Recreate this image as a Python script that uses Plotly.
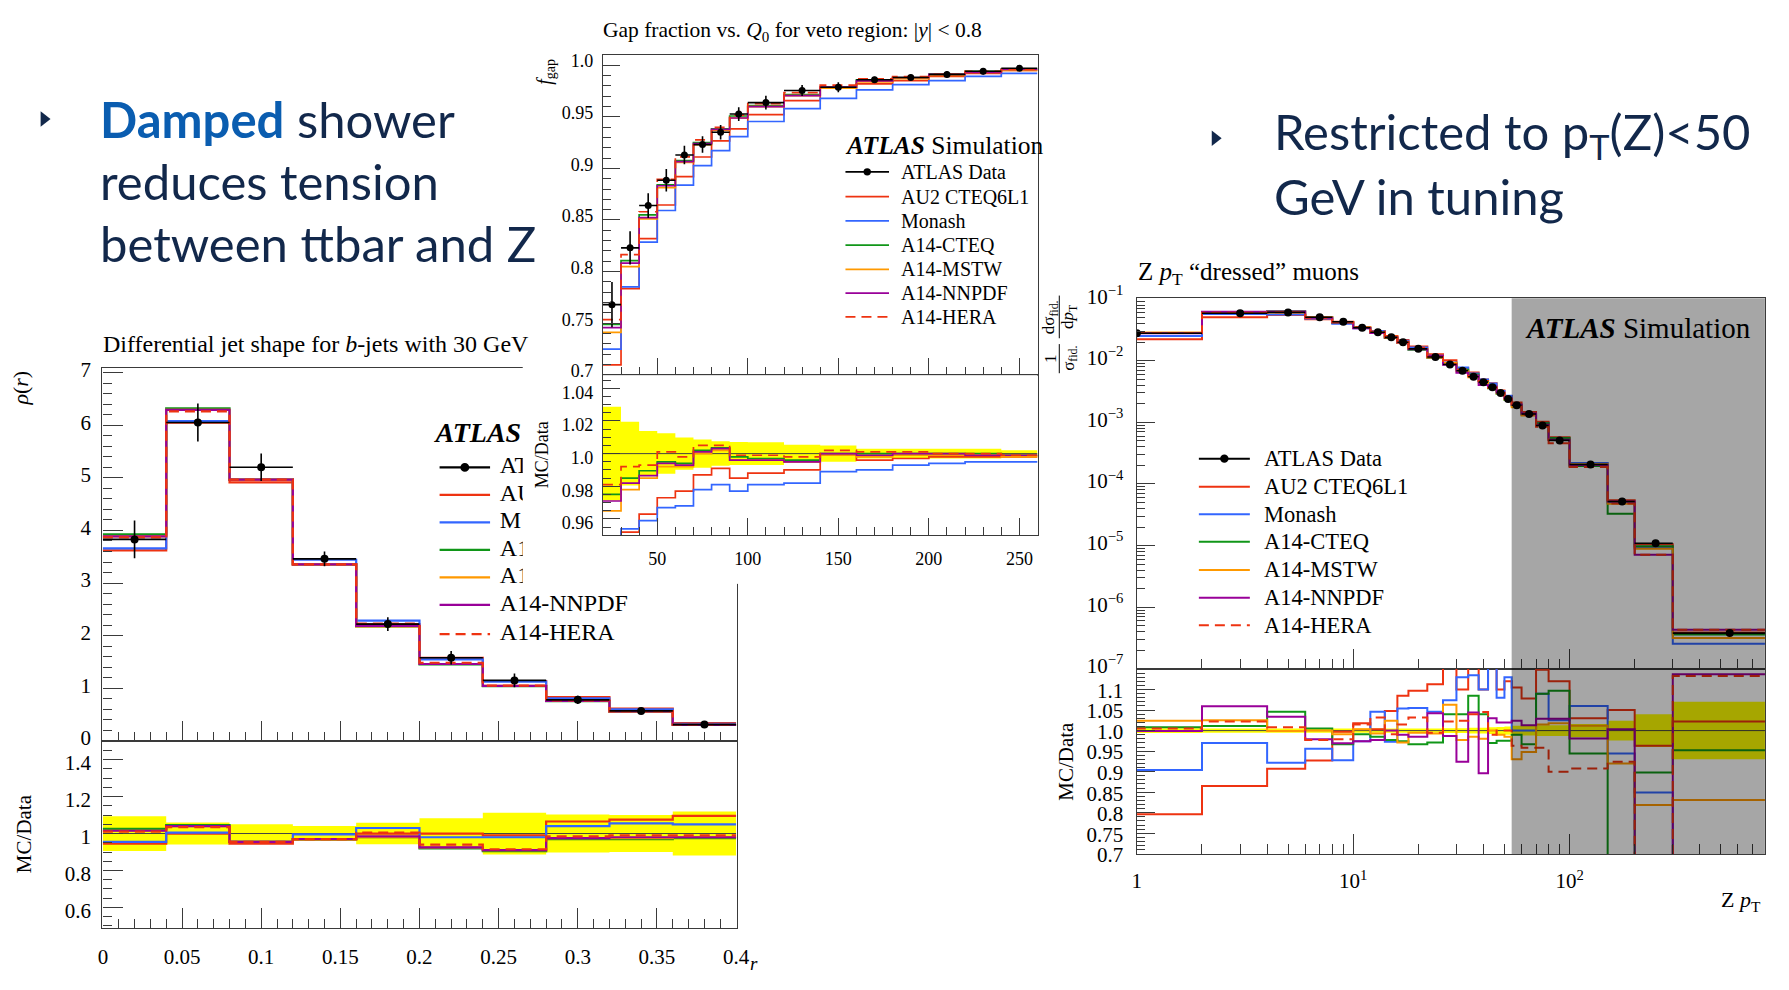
import math
import plotly.graph_objects as go

W, H = 1789, 990
SERIF = "Liberation Serif"
SANS = "Lato"
NAVY = "#12284B"
BLUE_TXT = "#0A5DB0"
FRAME = "#3a3a3a"
YELLOW = "#FFFF00"

# ---------------- generators ----------------
gen_names = ["AU2 CTEQ6L1", "Monash", "A14-CTEQ", "A14-MSTW", "A14-NNPDF", "A14-HERA"]
gen_colors = ["#EE3311", "#3366FF", "#109618", "#FF9900", "#990099", "#EE3311"]
gen_dash = ["solid", "solid", "solid", "solid", "solid", "10px,6px"]

# ---------------- left: differential jet shape ----------------
js_edges = [0.0, 0.04, 0.08, 0.12, 0.16, 0.20, 0.24, 0.28, 0.32, 0.36, 0.40]
js_data = [3.83, 6.05, 5.20, 3.46, 2.22, 1.58, 1.15, 0.78, 0.57, 0.31]
js_err = [0.36, 0.36, 0.26, 0.14, 0.13, 0.13, 0.13, 0.08, 0.057, 0.037]
js_r_au2 = [0.945, 1.0, 0.945, 0.97, 1.0, 1.0, 0.99, 1.065, 1.075, 1.095]
js_r_monash = [0.955, 1.005, 0.955, 0.995, 1.03, 0.98, 0.98, 1.04, 1.055, 1.05]
js_r_cteq = [1.025, 1.045, 0.955, 0.97, 0.98, 0.92, 0.905, 0.97, 0.97, 0.975]
js_r_mstw = [1.015, 1.04, 0.955, 0.97, 0.98, 0.925, 0.91, 0.975, 0.975, 0.98]
js_r_nnpdf = [1.015, 1.04, 0.955, 0.97, 0.985, 0.925, 0.91, 0.975, 0.98, 0.98]
js_r_hera = [1.01, 1.035, 0.955, 0.97, 1.005, 0.94, 0.915, 0.985, 0.99, 0.99]
js_xticks = [0, 0.05, 0.1, 0.15, 0.2, 0.25, 0.3, 0.35, 0.4]
js_xticklabels = ["0", "0.05", "0.1", "0.15", "0.2", "0.25", "0.3", "0.35", "0.4"]
js_yticks = [0, 1, 2, 3, 4, 5, 6, 7]
js_rticks = [0.6, 0.8, 1.0, 1.2, 1.4]
js_rticklabels = ["0.6", "0.8", "1", "1.2", "1.4"]
# legend labels as they remain visible left of the pasted inset
js_legend_visible = ["AT", "AU", "M", "A1", "A1", "A14-NNPDF", "A14-HERA"]

# ---------------- middle: gap fraction ----------------
gap_edges = [20, 30, 40, 50, 60, 70, 80, 90, 100, 120, 140, 160, 180, 200, 220, 240, 260]
gap_data = [0.768, 0.823, 0.864, 0.8885, 0.913, 0.923, 0.935, 0.9526, 0.9637, 0.9754,
            0.9786, 0.9858, 0.988, 0.991, 0.994, 0.9969]
gap_err = [0.022, 0.016, 0.012, 0.011, 0.009, 0.008, 0.007, 0.0067, 0.0067, 0.0053,
           0.0049, 0.003, 0.003, 0.003, 0.003, 0.002]
gap_r_au2 = [0.924, 0.952, 0.963, 0.973, 0.977, 0.987, 0.991, 0.985, 0.988, 0.99,
             0.999, 0.996, 0.997, 0.998, 0.998, 0.998]
gap_r_monash = [0.944, 0.954, 0.959, 0.967, 0.968, 0.978, 0.981, 0.977, 0.981, 0.982,
                0.989, 0.99, 0.993, 0.994, 0.995, 0.995]
gap_r_cteq = [0.975, 0.985, 0.9895, 0.995, 0.994, 1.002, 1.0036, 0.998, 0.997, 0.996,
              1.0, 1.0, 1.0, 1.0, 1.0, 0.999]
gap_r_mstw = [0.965, 0.978, 0.985, 0.992, 0.992, 1.0, 1.002, 0.996, 0.996, 0.995,
              0.999, 0.998, 0.999, 0.999, 0.999, 0.998]
gap_r_nnpdf = [0.971, 0.982, 0.9865, 0.994, 0.993, 1.001, 1.003, 0.996, 0.996, 0.995,
               1.0, 0.999, 1.0, 1.0, 0.999, 0.999]
gap_r_hera = [0.981, 0.992, 0.993, 1.001, 0.998, 1.005, 1.005, 0.999, 0.999, 0.998,
              1.002, 1.001, 1.001, 1.0, 1.0, 0.999]
gap_xticks = [50, 100, 150, 200, 250]
gap_xticklabels = ["50", "100", "150", "200", "250"]
gap_yticks = [0.7, 0.75, 0.8, 0.85, 0.9, 0.95, 1.0]
gap_yticklabels = ["0.7", "0.75", "0.8", "0.85", "0.9", "0.95", "1.0"]
gap_rticks = [0.96, 0.98, 1.0, 1.02, 1.04]
gap_rticklabels = ["0.96", "0.98", "1.0", "1.02", "1.04"]

# ---------------- right: Z pT ----------------
zpt_edges = [0, 2, 4, 6, 8, 10, 12, 14, 16, 18, 22, 26, 30, 34, 38, 42, 46, 50, 54, 60,
             70, 80, 100, 150, 200, 300, 800]
zpt_data = [0.028, 0.059, 0.061, 0.051, 0.043, 0.0345, 0.029, 0.024, 0.020, 0.0156,
            0.0115, 0.0087, 0.0069, 0.0055, 0.0045, 0.0037, 0.0030, 0.0024, 0.0019,
            0.00137, 0.00089, 0.00051, 0.000207, 5.2e-5, 1.09e-5, 3.8e-7]
zpt_relerr = [0.006, 0.005, 0.005, 0.005, 0.005, 0.005, 0.005, 0.005, 0.005, 0.005,
              0.005, 0.006, 0.006, 0.007, 0.007, 0.008, 0.009, 0.010, 0.012, 0.012,
              0.013, 0.013, 0.016, 0.024, 0.040, 0.070]
zpt_r_au2 = [0.796, 0.865, 0.907, 0.927, 0.997, 1.018, 1.003, 1.048, 1.085, 1.097,
             1.113, 1.17, 1.10, 1.17, 1.10, 1.17, 1.10, 1.12, 1.105, 1.078,
             1.148, 1.12, 1.03, 1.05, 0.963, 1.022]
zpt_r_monash = [0.904, 0.97, 0.922, 0.956, 0.928, 0.974, 1.046, 0.973, 1.054, 1.055,
                1.046, 1.074, 1.13, 1.135, 1.10, 1.16, 1.08, 1.13, 1.0, 1.0,
                1.09, 1.025, 1.06, 0.944, 0.849, 0.67]
zpt_r_cteq = [1.008, 1.011, 1.046, 1.005, 0.967, 0.991, 0.985, 0.977, 0.974, 0.967,
              0.971, 1.04, 1.04, 1.085, 1.04, 0.97, 0.975, 0.975, 0.99, 0.967,
              1.09, 1.097, 0.944, 0.63, 0.898, 0.952]
zpt_r_mstw = [1.024, 1.025, 0.999, 1.0, 0.991, 1.003, 0.993, 1.024, 0.971, 0.995,
              0.993, 1.063, 0.977, 0.985, 0.98, 1.0, 0.99, 0.985, 0.93, 0.948,
              1.015, 1.018, 1.012, 0.92, 0.819, 0.831]
zpt_r_nnpdf = [0.999, 1.059, 1.034, 0.979, 0.969, 0.974, 0.977, 1.0, 0.99, 0.985,
               1.042, 0.987, 0.924, 1.044, 0.896, 1.03, 1.02, 1.02, 1.024, 1.013,
               1.029, 1.029, 0.981, 1.003, 0.65, 1.137]
zpt_r_hera = [1.005, 1.022, 1.008, 0.977, 0.979, 1.015, 1.032, 0.991, 1.015, 1.032,
              0.995, 1.022, 1.024, 1.04, 1.045, 0.99, 1.0, 1.0, 0.963, 0.958,
              0.958, 0.90, 0.908, 0.924, 0.65, 1.133]
zpt_tuning_limit = 54
zpt_max = 800
zpt_yticks = [1e-7, 1e-6, 1e-5, 1e-4, 1e-3, 1e-2, 1e-1]
zpt_yticklabels = ["10<sup>\u22127</sup>", "10<sup>\u22126</sup>", "10<sup>\u22125</sup>",
                   "10<sup>\u22124</sup>", "10<sup>\u22123</sup>", "10<sup>\u22122</sup>",
                   "10<sup>\u22121</sup>"]
zpt_xticks = [1, 10, 100]
zpt_xticklabels = ["1", "10<sup>1</sup>", "10<sup>2</sup>"]
zpt_rticks = [0.7, 0.75, 0.8, 0.85, 0.9, 0.95, 1.0, 1.05, 1.1]
zpt_rticklabels = ["0.7", "0.75", "0.8", "0.85", "0.9", "0.95", "1.0", "1.05", "1.1"]


# ---------------- helpers ----------------
def fx(px):
    return px / W


def fy(py):
    return 1 - py / H


fig = go.Figure()


def hist(edges, vals, color, dash, width, xa, ya):
    fig.add_trace(go.Scatter(
        x=list(edges), y=list(vals) + [vals[-1]], mode="lines",
        line=dict(color=color, width=width, dash=dash, shape="hv"),
        xaxis=xa, yaxis=ya, showlegend=False, hoverinfo="skip"))


def band(edges, rel, xa, ya):
    lo = [1 - r for r in rel]
    hi = [1 + r for r in rel]
    fig.add_trace(go.Scatter(x=list(edges), y=lo + [lo[-1]], mode="lines",
                             line=dict(width=0, shape="hv", color=YELLOW),
                             xaxis=xa, yaxis=ya, showlegend=False, hoverinfo="skip"))
    fig.add_trace(go.Scatter(x=list(edges), y=hi + [hi[-1]], mode="lines",
                             line=dict(width=0, shape="hv", color=YELLOW),
                             fill="tonexty", fillcolor=YELLOW,
                             xaxis=xa, yaxis=ya, showlegend=False, hoverinfo="skip"))


def refline(edges, xa, ya):
    fig.add_trace(go.Scatter(x=[edges[0], edges[-1]], y=[1, 1], mode="lines",
                             line=dict(color="#444444", width=1),
                             xaxis=xa, yaxis=ya, showlegend=False, hoverinfo="skip"))


def data_pts(edges, vals, err, xa, ya, size, xmin=None):
    cen = [(a + b) / 2 for a, b in zip(edges[:-1], edges[1:])]
    hi = [b - c for b, c in zip(edges[1:], cen)]
    lo = []
    for a, c in zip(edges[:-1], cen):
        a2 = a if xmin is None else max(a, xmin)
        lo.append(c - a2)
    fig.add_trace(go.Scatter(
        x=cen, y=vals, mode="markers",
        marker=dict(color="black", size=size),
        error_y=dict(type="data", array=err, color="black", thickness=1.6, width=0),
        error_x=dict(type="data", array=hi, arrayminus=lo, color="black", thickness=1.6, width=0),
        xaxis=xa, yaxis=ya, showlegend=False, hoverinfo="skip"))


# ---------- left plot ----------
js_ratios = [js_r_au2, js_r_monash, js_r_cteq, js_r_mstw, js_r_nnpdf, js_r_hera]
for r, c, d in zip(js_ratios, gen_colors, gen_dash):
    hist(js_edges, [v * k for v, k in zip(js_data, r)], c, d, 2.2, "x", "y")
data_pts(js_edges, js_data, js_err, "x", "y", 8)

band(js_edges, [e / v for e, v in zip(js_err, js_data)], "x2", "y2")
refline(js_edges, "x2", "y2")
for r, c, d in zip(js_ratios, gen_colors, gen_dash):
    hist(js_edges, r, c, d, 2.2, "x2", "y2")

# left legend text inside left subplot (so the pasted inset hides its right part)
L_X0, L_X1, L_YTOP, L_YBOT = 98.4, 739.0, 363.0, 747.0
JS_YMAX = 7.08


def ldx(px):
    return (px - L_X0) / (L_X1 - L_X0) * 0.4


def ldy(py):
    return (L_YBOT - py) / (L_YBOT - L_YTOP) * JS_YMAX


left_leg_y = [465, 493.3, 521.7, 550, 578.3, 606.7, 636.7]
fig.add_trace(go.Scatter(
    x=[ldx(500)] * len(left_leg_y), y=[ldy(v) for v in left_leg_y],
    text=js_legend_visible, mode="text", textposition="middle right",
    textfont=dict(family=SERIF, size=24, color="black"), cliponaxis=False,
    xaxis="x", yaxis="y", showlegend=False, hoverinfo="skip"))
fig.add_trace(go.Scatter(
    x=[ldx(435)], y=[ldy(431.7)], text=["<b><i>ATLAS</i></b>"],
    mode="text", textposition="middle right",
    textfont=dict(family=SERIF, size=28, color="black"), cliponaxis=False,
    xaxis="x", yaxis="y", showlegend=False, hoverinfo="skip"))

# occluding inset background (the pasted middle figure)
fig.add_trace(go.Scatter(x=[None], y=[None], xaxis="x3", yaxis="y3",
                         showlegend=False, hoverinfo="skip"))

# ---------- middle plot ----------
gap_ratios = [gap_r_au2, gap_r_monash, gap_r_cteq, gap_r_mstw, gap_r_nnpdf, gap_r_hera]
for r, c, d in zip(gap_ratios, gen_colors, gen_dash):
    hist(gap_edges, [v * k for v, k in zip(gap_data, r)], c, d, 1.7, "x4", "y4")
data_pts(gap_edges, gap_data, gap_err, "x4", "y4", 7)

band(gap_edges, [e / v for e, v in zip(gap_err, gap_data)], "x5", "y5")
refline(gap_edges, "x5", "y5")
for r, c, d in zip(gap_ratios, gen_colors, gen_dash):
    hist(gap_edges, r, c, d, 1.7, "x5", "y5")

# ---------- right plot ----------
zpt_plot_edges = [e if e > 0 else 0.5 for e in zpt_edges]
zpt_ratios = [zpt_r_au2, zpt_r_monash, zpt_r_cteq, zpt_r_mstw, zpt_r_nnpdf, zpt_r_hera]
for r, c, d in zip(zpt_ratios, gen_colors, gen_dash):
    hist(zpt_plot_edges, [v * k for v, k in zip(zpt_data, r)], c, d, 2.0, "x6", "y6")
data_pts(zpt_edges, zpt_data, [v * e for v, e in zip(zpt_data, zpt_relerr)], "x6", "y6", 8,
         xmin=0.01)

band(zpt_plot_edges, zpt_relerr, "x7", "y7")
refline(zpt_plot_edges, "x7", "y7")
for r, c, d in zip(zpt_ratios, gen_colors, gen_dash):
    hist(zpt_plot_edges, r, c, d, 2.0, "x7", "y7")


# ---------------- axes ----------------
def axis(domain, rng, anchor, major_len, minor_len, tickvals, ticktext=None,
         minor_dtick=None, minor_vals=None, fsize=20, labels=True, log=False, standoff=4,
         shift=0):
    a = dict(domain=domain, range=rng, anchor=anchor, showgrid=False, zeroline=False,
             showline=True, mirror=True, linecolor=FRAME, linewidth=1.3,
             ticks="inside", ticklen=major_len, tickwidth=1.2, tickcolor=FRAME,
             tickmode="array", tickvals=tickvals, showticklabels=labels,
             tickfont=dict(family=SERIF, size=fsize, color="black"),
             ticklabelstandoff=standoff, ticklabelshift=shift, fixedrange=True)
    if ticktext is not None:
        a["ticktext"] = ticktext
    if log:
        a["type"] = "log"
    mn = dict(ticks="inside", ticklen=minor_len, tickwidth=1.1, tickcolor=FRAME, showgrid=False)
    if minor_dtick is not None:
        mn["dtick"] = minor_dtick
        mn["tick0"] = 0
    if minor_vals is not None:
        mn["tickmode"] = "array"
        mn["tickvals"] = minor_vals
    a["minor"] = mn
    return a


Lx = [fx(98.4), fx(739)]
Mx = [fx(604), fx(1043)]
Rx = [fx(1143.2), fx(1778)]

layout_axes = {}
# left
layout_axes["xaxis"] = axis(Lx, [-0.0003, 0.4003], "y", 20, 9, js_xticks, minor_dtick=0.01, labels=False)
layout_axes["yaxis"] = axis([fy(747), fy(363)], [-0.004, JS_YMAX], "x", 20, 9, js_yticks,
                            [str(v) for v in js_yticks], minor_dtick=0.2, fsize=21, standoff=6,
                            shift=-3)
layout_axes["xaxis2"] = axis(Lx, [-0.0003, 0.4003], "y2", 20, 9, js_xticks, js_xticklabels,
                             minor_dtick=0.01, fsize=21, standoff=10)
layout_axes["yaxis2"] = axis([fy(939.3), fy(747)], [0.49, 1.5], "x2", 20, 9, js_rticks,
                             js_rticklabels, minor_dtick=0.05, fsize=21, standoff=6, shift=3)
# occluder
layout_axes["xaxis3"] = dict(domain=[fx(523), fx(1044)], range=[0, 1], anchor="y3",
                             visible=False, showgrid=False, zeroline=False, fixedrange=True)
layout_axes["yaxis3"] = dict(domain=[fy(585), 1.0], range=[0, 1], anchor="x3",
                             visible=False, showgrid=False, zeroline=False, fixedrange=True)
# middle
layout_axes["xaxis4"] = axis(Mx, [20, 260], "y4", 17, 8, gap_xticks, minor_dtick=10, labels=False)
layout_axes["yaxis4"] = axis([fy(370), fy(40.5)], [0.6997, 1.0095], "x4", 17, 8, gap_yticks,
                             gap_yticklabels, minor_dtick=0.01, fsize=18, standoff=5, shift=-4)
layout_axes["xaxis5"] = axis(Mx, [20, 260], "y5", 17, 8, gap_xticks, gap_xticklabels,
                             minor_dtick=10, fsize=18, standoff=7)
layout_axes["yaxis5"] = axis([fy(535), fy(370)], [0.95, 1.048], "x5", 17, 8, gap_rticks,
                             gap_rticklabels, minor_dtick=0.005, fsize=18, standoff=5, shift=4)
# right
z_minor_x = [k * 10 ** e for e in range(0, 3) for k in range(2, 10) if k * 10 ** e <= zpt_max]
z_minor_y = [k * 10.0 ** e for e in range(-7, -1) for k in range(2, 10)]
xr = [-0.0008, math.log10(zpt_max) + 0.0008]
layout_axes["xaxis6"] = axis(Rx, xr, "y6", 20, 10, zpt_xticks, minor_vals=z_minor_x,
                             labels=False, log=True)
layout_axes["yaxis6"] = axis([fy(672.7), fy(290.7)], [-7.003, -0.984], "x6", 18, 8, zpt_yticks,
                             zpt_yticklabels, minor_vals=z_minor_y, fsize=21, log=True, standoff=8,
                             shift=-3)
layout_axes["xaxis7"] = axis(Rx, xr, "y7", 20, 10, zpt_xticks, zpt_xticklabels,
                             minor_vals=z_minor_x, fsize=21, log=True, standoff=8)
layout_axes["yaxis7"] = axis([fy(863.3), fy(672.7)], [0.6995, 1.15], "x7", 18, 8, zpt_rticks,
                             zpt_rticklabels, minor_dtick=0.01, fsize=21, standoff=8, shift=1)

# ---------------- shapes ----------------
shapes = []
# region excluded from tuning (grey overlay)
for xa, ya in [("x6", "y6"), ("x7", "y7")]:
    shapes.append(dict(type="rect", xref=xa, yref=ya + " domain",
                       x0=zpt_tuning_limit, x1=zpt_max, y0=0, y1=1,
                       fillcolor="rgba(0,0,0,0.35)", line=dict(width=0), layer="above"))


def legend_keys(x0, x1, ys, lw, dot_size):
    xm = (x0 + x1) / 2
    for i, yv in enumerate(ys):
        if i == 0:
            col, dash = "black", "solid"
        else:
            col, dash = gen_colors[i - 1], gen_dash[i - 1]
        shapes.append(dict(type="line", xref="paper", yref="paper",
                           x0=fx(x0), x1=fx(x1), y0=fy(yv), y1=fy(yv),
                           line=dict(color=col, width=lw, dash=dash)))
        if i == 0:
            r = dot_size / 2
            shapes.append(dict(type="circle", xref="paper", yref="paper",
                               x0=fx(xm - r), x1=fx(xm + r), y0=fy(yv + r), y1=fy(yv - r),
                               fillcolor="black", line=dict(width=0)))


legend_keys(439, 490, left_leg_y, 2.2, 9)
mid_leg_y = [160.5, 186, 211, 236, 261, 285.5, 310]
legend_keys(849, 893, mid_leg_y, 1.7, 7.5)
right_leg_y = [456, 485, 513.3, 541.7, 570.7, 599.3, 627.7]
legend_keys(1206, 1257.5, right_leg_y, 2.0, 8.5)

# fraction bars of the rotated y-axis title of the right plot
for (ya0, ya1) in [(338, 368), (288, 332)]:
    shapes.append(dict(type="line", xref="paper", yref="paper",
                       x0=fx(1065), x1=fx(1065), y0=fy(ya0), y1=fy(ya1),
                       line=dict(color="black", width=1)))

# bullets
for (bx, by) in [(36, 106), (1219, 126)]:
    p = "M {:.5f},{:.5f} L {:.5f},{:.5f} L {:.5f},{:.5f} Z".format(
        fx(bx), fy(by - 8), fx(bx), fy(by + 8), fx(bx + 10), fy(by))
    shapes.append(dict(type="path", xref="paper", yref="paper", path=p,
                       fillcolor=NAVY, line=dict(width=0)))

# ---------------- annotations ----------------
annotations = []


def ann(text, px, py, size, xanchor="left", yanchor="middle", angle=0, family=SERIF,
        color="black"):
    annotations.append(dict(text=text, x=fx(px), y=fy(py), xref="paper", yref="paper",
                            xanchor=xanchor, yanchor=yanchor, textangle=angle,
                            showarrow=False, font=dict(family=family, size=size, color=color)))


# slide bullets
ann("<b><span style='color:%s'>Damped</span></b> shower" % BLUE_TXT, 94, 106, 49, family=SANS, color=NAVY)
ann("reduces tension", 94, 170, 49, family=SANS, color=NAVY)
ann("between ttbar and Z", 94, 234, 49, family=SANS, color=NAVY)
ann("Restricted to p<sub>T</sub>(Z)&lt;50", 1280, 122, 49, family=SANS, color=NAVY)
ann("GeV in tuning", 1280, 185, 49, family=SANS, color=NAVY)

# left
ann("Differential jet shape for <i>b</i>-jets with 30 GeV", 97, 338, 24)
ann("<i>\u03c1</i>(<i>r</i>)", 16, 383, 22, xanchor="center", angle=-90)
ann("MC/Data", 20, 842, 21, xanchor="center", angle=-90)
ann("<i>r</i>", 757, 989, 19, xanchor="center", yanchor="bottom")

# middle
ann("Gap fraction vs. <i>Q</i><sub>0</sub> for veto region: |<i>y</i>| &lt; 0.8", 602, 16, 21.5)
ann("<i>f</i><sub>gap</sub>", 546, 58, 20, xanchor="center", angle=-90)
ann("MC/Data", 542, 452, 18, xanchor="center", angle=-90)
ann("<b><i>ATLAS</i></b> Simulation", 847, 133.5, 25.5)
for yv, lab in zip(mid_leg_y, ["ATLAS Data"] + gen_names):
    ann(lab, 903, yv, 20)

# right
ann("Z <i>p</i><sub>T</sub> \u201cdressed\u201d muons", 1143, 265, 25)
ann("1", 1056, 353, 17, xanchor="center", angle=-90)
ann("\u03c3<sub>fid.</sub>", 1075, 353, 17, xanchor="center", angle=-90)
ann("d\u03c3<sub>fid.</sub>", 1056, 310, 17, xanchor="center", angle=-90)
ann("d<i>p</i><sub>T</sub>", 1075, 310, 17, xanchor="center", angle=-90)
ann("MC/Data", 1071, 768, 21, xanchor="center", angle=-90)
ann("Z <i>p</i><sub>T</sub>", 1776, 912, 22, xanchor="right")
ann("<b><i>ATLAS</i></b> Simulation", 1533, 321, 29)
for yv, lab in zip(right_leg_y, ["ATLAS Data"] + gen_names):
    ann(lab, 1270, yv, 22.5)

fig.update_layout(
    width=W, height=H, margin=dict(l=0, r=0, t=0, b=0),
    paper_bgcolor="white", plot_bgcolor="white", showlegend=False,
    shapes=shapes, annotations=annotations, **layout_axes)

fig.write_html("out.html")
